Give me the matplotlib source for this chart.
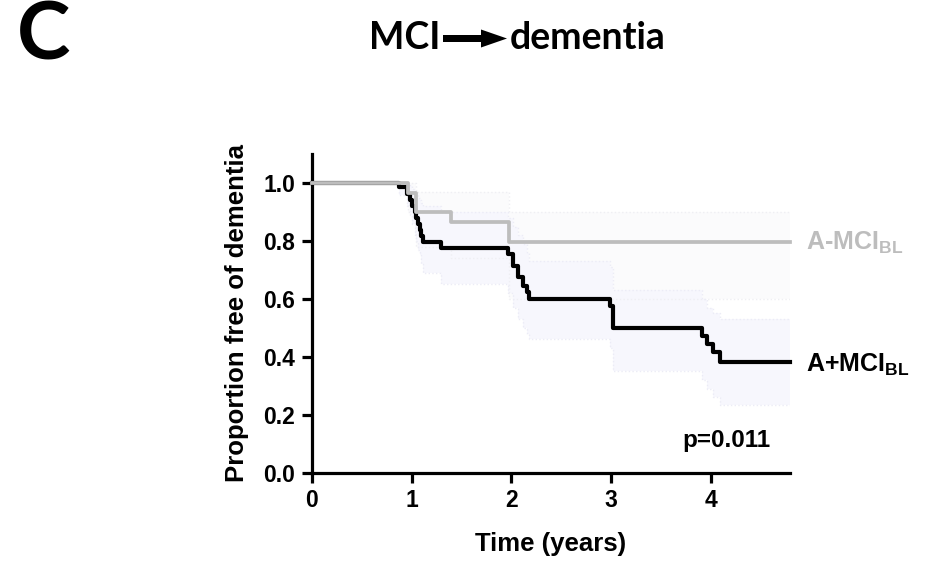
import matplotlib
matplotlib.use("Agg")
import matplotlib.pyplot as plt
from matplotlib.patches import FancyArrow
from matplotlib.transforms import IdentityTransform

# ---------------- data ----------------
x_end = 4.79

neg_times = [0.0, 0.96, 1.05, 1.40, 1.98]
neg_surv = [1.0, 0.967, 0.90, 0.866, 0.795]
neg_upper = [1.0, 1.0, 0.97, 0.97, 0.90]
neg_lower = [1.0, 0.90, 0.78, 0.74, 0.60]

pos_times = [0.0, 0.87, 0.95, 0.98, 1.00, 1.03, 1.05, 1.07, 1.09, 1.10, 1.12, 1.30,
             1.97, 2.02, 2.07, 2.12, 2.16, 2.18, 2.99, 3.02, 3.91, 3.96, 4.02, 4.09]
pos_surv = [1.0, 0.985, 0.964, 0.943, 0.922, 0.901, 0.879, 0.858, 0.837, 0.816, 0.795, 0.775,
            0.754, 0.715, 0.675, 0.645, 0.624, 0.600, 0.575, 0.500, 0.472, 0.443, 0.415, 0.381]
pos_upper = [1.0, 1.0, 1.0, 0.99, 0.98, 0.97, 0.96, 0.95, 0.94, 0.93, 0.92, 0.90,
             0.88, 0.85, 0.82, 0.79, 0.76, 0.73, 0.71, 0.63, 0.60, 0.57, 0.55, 0.53]
pos_lower = [1.0, 0.96, 0.92, 0.89, 0.86, 0.82, 0.80, 0.77, 0.75, 0.72, 0.69, 0.65,
             0.62, 0.57, 0.53, 0.50, 0.48, 0.46, 0.43, 0.35, 0.32, 0.29, 0.26, 0.235]

x_ticks = [0, 1, 2, 3, 4]
y_ticks = [0.0, 0.2, 0.4, 0.6, 0.8, 1.0]
y_ticklabels = ["0.0", "0.2", "0.4", "0.6", "0.8", "1.0"]
p_text = "p=0.011"

# ---------------- style ----------------
plt.rcParams["font.family"] = ["Liberation Sans", "DejaVu Sans"]
plt.rcParams["font.weight"] = "bold"
plt.rcParams["mathtext.fontset"] = "custom"
plt.rcParams["mathtext.rm"] = "Liberation Sans:bold"
plt.rcParams["mathtext.bf"] = "Liberation Sans:bold"

GRAY = "#BDBDBD"
BLACK = "#000000"
W, H = 928, 564

fig = plt.figure(figsize=(W / 100, H / 100), dpi=100)
ax = fig.add_axes([0.3359, 0.1622, 0.5151, 0.5644])


def ext(t, v):
    return list(t) + [x_end], list(v) + [v[-1]]


# confidence bands
tn, un = ext(neg_times, neg_upper)
_, ln = ext(neg_times, neg_lower)
ax.fill_between(tn, ln, un, step="post", color="#FBFBFC", lw=0, zorder=1)
tp, up = ext(pos_times, pos_upper)
_, lp = ext(pos_times, pos_lower)
ax.fill_between(tp, lp, up, step="post", color="#F7F7FD", lw=0, zorder=1.1)
for arr in (un, ln):
    ax.step(tn, arr, where="post", color="#EFEFF3", lw=1.0, ls=":", zorder=1.2)
for arr in (up, lp):
    ax.step(tp, arr, where="post", color="#ECECF6", lw=1.0, ls=":", zorder=1.2)

# survival curves
tp2, sp2 = ext(pos_times, pos_surv)
ax.step(tp2, sp2, where="post", color=BLACK, lw=3.0, zorder=3, clip_on=False)
tn2, sn2 = ext(neg_times, neg_surv)
ax.step(tn2, sn2, where="post", color=GRAY, lw=2.7, zorder=4, clip_on=False)

ax.set_xlim(0, x_end)
ax.set_ylim(0, 1.1)
ax.set_xticks(x_ticks)
ax.set_yticks(y_ticks)
ax.set_yticklabels(y_ticklabels)
for s in ("top", "right"):
    ax.spines[s].set_visible(False)
for s in ("left", "bottom"):
    ax.spines[s].set_linewidth(2.3)
ax.tick_params(axis="both", direction="out", length=7, width=2.3, labelsize=16.5, pad=5)
for lab in ax.get_xticklabels() + ax.get_yticklabels():
    lab.set_fontweight("bold")

ax.set_xlabel("Time (years)", fontsize=18.5, fontweight="bold", labelpad=14)
ax.set_ylabel("Proportion free of dementia", fontsize=18.5, fontweight="bold", labelpad=10)

ax.text(x_end + 0.16, neg_surv[-1], "A-MCI$_{\\mathrm{BL}}$", color=GRAY, fontsize=18,
        fontweight="bold", va="center", ha="left", clip_on=False)
ax.text(x_end + 0.16, pos_surv[-1] - 0.01, "A+MCI$_{\\mathrm{BL}}$", color=BLACK, fontsize=18,
        fontweight="bold", va="center", ha="left", clip_on=False)
ax.text(4.60, 0.112, p_text, fontsize=17.5, fontweight="bold", ha="right", va="center")

# panel letter and title
fig.text(44 / W, 1 - 37 / H, "C", fontsize=58, fontweight="bold", family=["Lato", "DejaVu Sans"],
         ha="center", va="center")
fig.text(440 / W, 1 - 49.3 / H, "MCI", fontsize=27, fontweight="bold",
         family=["Lato", "DejaVu Sans"], ha="right", va="baseline")
fig.text(510 / W, 1 - 49.3 / H, "dementia", fontsize=27, fontweight="bold",
         family=["Lato", "DejaVu Sans"], ha="left", va="baseline")
arrow = FancyArrow(443, H - 38.5, 64, 0, width=7, head_width=18, head_length=26,
                   length_includes_head=True, color="black", lw=0,
                   transform=IdentityTransform())
fig.patches.append(arrow)

fig.savefig("out.png", dpi=100)
